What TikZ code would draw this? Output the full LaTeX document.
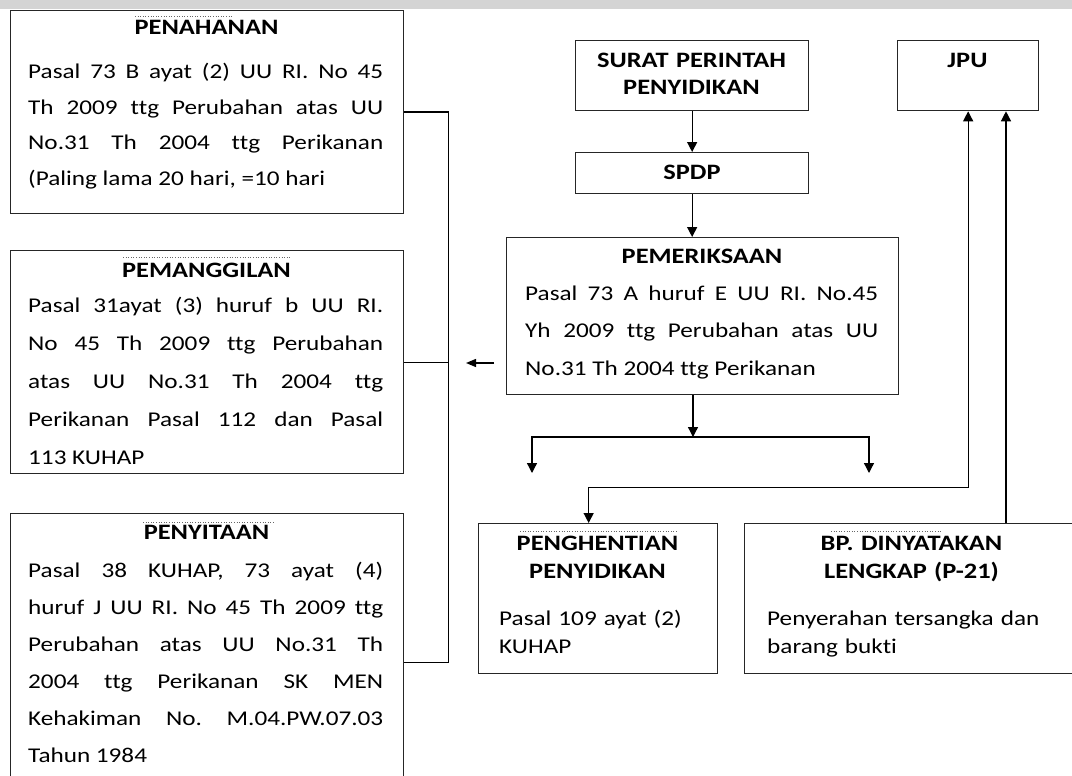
\documentclass[tikz,border=0pt]{standalone}
\usepackage{fontspec}
\setmainfont{Carlito}[FakeStretch=1.2, Ligatures={NoCommon}]
\usetikzlibrary{arrows.meta}
\frenchspacing

\begin{document}
\begin{tikzpicture}[x=1pt, y=-1pt,
    kotak/.style={draw=black!85, line width=1.3pt, rectangle, inner sep=0pt, anchor=north west},
    judul/.style={font=\bfseries\fontsize{22}{27}\selectfont, inner sep=0pt, anchor=base, align=center},
    isi/.style={font=\fontsize{21}{35.5}\selectfont, inner sep=0pt, anchor=base west, align=justify},
    garis/.style={line width=1.3pt},
    panah/.style={line width=1.3pt, -{Triangle[width=10pt,length=10pt]}},
    panahdua/.style={line width=1.3pt, {Triangle[width=10pt,length=10pt]}-{Triangle[width=10pt,length=10pt]}},
    panahkecil/.style={line width=1.3pt, -{Triangle[width=8pt,length=10pt]}},
    titik/.style={dotted, line width=0.6pt, black!60}]

      \useasboundingbox (0,0) rectangle (1072,776);
      \clip (0,0) rectangle (1072,776);
      \fill[black!17] (0,0) rectangle (1072,9);

      \node [kotak, minimum width=393pt, minimum height=203pt] (penahanan) at (10,10) {};
      \node [kotak, minimum width=393pt, minimum height=223pt] (pemanggilan) at (10,250) {};
      \node [kotak, minimum width=393pt, minimum height=298pt] (penyitaan) at (10,513) {};
      \node [kotak, minimum width=233pt, minimum height=70pt] (surat) at (575,40) {};
      \node [kotak, minimum width=233pt, minimum height=41pt] (spdp) at (575,152) {};
      \node [kotak, minimum width=141pt, minimum height=70pt] (jpu) at (897,40) {};
      \node [kotak, minimum width=392pt, minimum height=157pt] (pemeriksaan) at (506,237) {};
      \node [kotak, minimum width=239pt, minimum height=150pt] (penghentian) at (478,523) {};
      \node [kotak, minimum width=335pt, minimum height=150pt] (bp) at (744,523) {};

      \node [judul] (penahananJudul) at (206.5,35) {PENAHANAN};
      \node [isi, text width=355pt] (penahananIsi) at (28,79)
        {Pasal 73 B ayat (2) UU RI. No 45\linebreak Th 2009 ttg Perubahan atas UU\linebreak
         No.31 Th 2004 ttg Perikanan\linebreak (Paling lama 20 hari, =10 hari};
      \node [judul] (pemanggilanJudul) at (206.5,277) {PEMANGGILAN};
      \node [isi, text width=355pt, font=\fontsize{21}{38}\selectfont] (pemanggilanIsi) at (28,312)
        {Pasal 31ayat (3) huruf b UU RI.\linebreak No 45 Th 2009 ttg Perubahan\linebreak
         atas UU No.31 Th 2004 ttg\linebreak Perikanan Pasal 112 dan Pasal\linebreak 113 KUHAP};
      \node [judul] (penyitaanJudul) at (206.5,539) {PENYITAAN};
      \node [isi, text width=355pt, font=\fontsize{21}{37}\selectfont] (penyitaanIsi) at (28,577)
        {Pasal 38 KUHAP, 73 ayat (4)\linebreak huruf J UU RI. No 45 Th 2009 ttg\linebreak
         Perubahan atas UU No.31 Th\linebreak 2004 ttg Perikanan SK MEN\linebreak
         Kehakiman No. M.04.PW.07.03\linebreak Tahun 1984};

      \node [judul, text width=250pt] (suratJudul) at (691.5,68) {SURAT PERINTAH\\PENYIDIKAN};
      \node [judul] (spdpJudul) at (692,179) {SPDP};
      \node [judul] (jpuJudul) at (967.5,68) {JPU};
      \node [judul] (pemeriksaanJudul) at (702,263) {PEMERIKSAAN};
      \node [isi, text width=353pt, font=\fontsize{21}{37.5}\selectfont] (pemeriksaanIsi) at (525,300)
        {Pasal 73 A huruf E UU RI. No.45\linebreak Yh 2009 ttg Perubahan atas UU\linebreak
         No.31 Th 2004 ttg Perikanan};
      \node [judul, text width=230pt, font=\bfseries\fontsize{22}{28}\selectfont] (penghentianJudul) at (597.5,550)
        {PENGHENTIAN\\PENYIDIKAN};
      \node [isi, text width=210pt, align=left, font=\fontsize{21}{28}\selectfont] (penghentianIsi) at (499,625)
        {Pasal 109 ayat (2)\\KUHAP};
      \node [judul, text width=300pt, font=\bfseries\fontsize{22}{28}\selectfont] (bpJudul) at (911.5,550)
        {BP. DINYATAKAN\\LENGKAP (P-21)};
      \node [isi, text width=300pt, align=left, font=\fontsize{21}{28}\selectfont] (bpIsi) at (767,625)
        {Penyerahan tersangka dan\\barang bukti};

      \draw [titik] (135,16) -- (233,16);
      \draw [titik] (123,257) -- (290,257);
      \draw [titik] (143,522) -- (275,522);
      \draw [titik] (520,531) -- (677,531);
      \draw [titik] (831,531) -- (942,531);

      \coordinate (cabang) at (693,437);
      \coordinate (kiri) at (532,473);
      \coordinate (kanan) at (869,473);
      \coordinate (ujung) at (466,363);
      \coordinate (jalurJPU) at (1006,110);

      \draw [garis] (penahanan.east) -- ++(44,0) |- (penyitaan.east);
      \draw [garis] (pemanggilan.east) -- ++(44,0);
      \draw [panahkecil] ([xshift=-12pt]pemeriksaan.west |- ujung) -- (ujung);

      \draw [panah] (surat) -- (spdp);
      \draw [panah] (spdp.south) -- (spdp.south |- pemeriksaan.north);
      \draw [panah] (pemeriksaan.south -| cabang) -- (cabang);
      \draw [panah] (cabang) -| (kiri);
      \draw [panah] (cabang) -| (kanan);
      \draw [panahdua] (jpu.south) -- ++(0,376) -| ([xshift=-9.5pt]penghentian.north);
      \draw [panah] (bp.north -| jalurJPU) -- (jpu.south -| jalurJPU);

\end{tikzpicture}
\end{document}
